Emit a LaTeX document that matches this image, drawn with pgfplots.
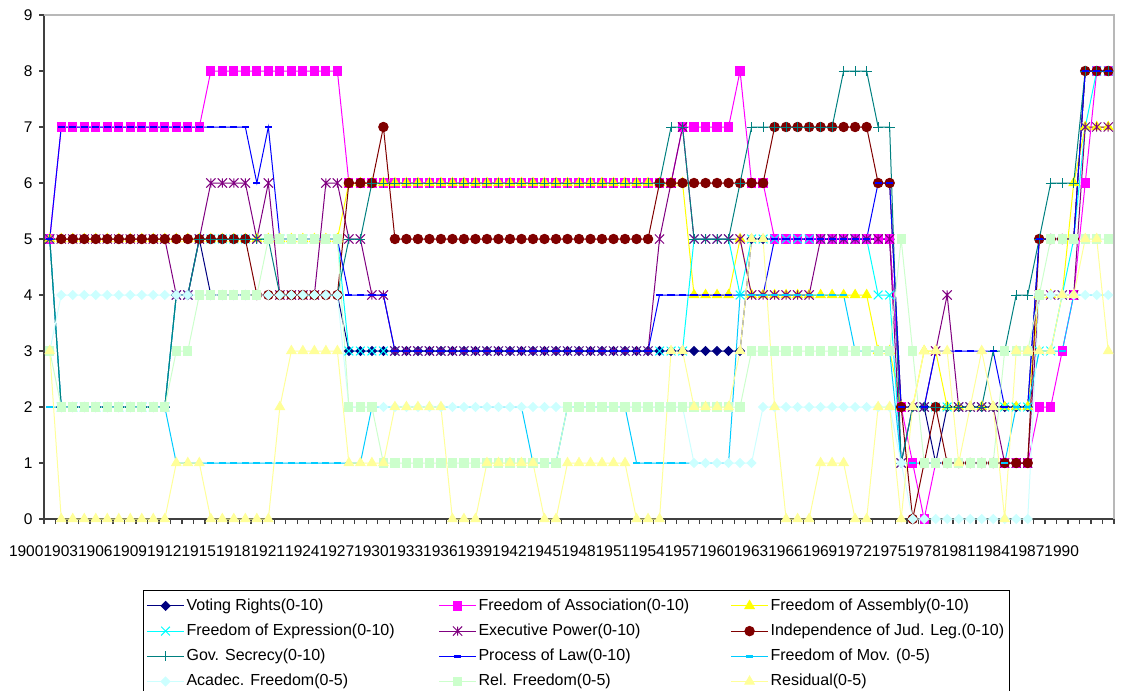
\documentclass[border=0pt]{standalone}
\usepackage{pgfplots}
\pgfplotsset{compat=1.18}
\usepackage{pgfplotstable}
\usepackage{fontspec}
\setmainfont{Liberation Sans}

\definecolor{cVR}{HTML}{000080}
\definecolor{cFA}{HTML}{FF00FF}
\definecolor{cFAs}{HTML}{FFFF00}
\definecolor{cFE}{HTML}{00FFFF}
\definecolor{cEP}{HTML}{800080}
\definecolor{cIJ}{HTML}{800000}
\definecolor{cGS}{HTML}{008080}
\definecolor{cPL}{HTML}{0000FF}
\definecolor{cFM}{HTML}{00CCFF}
\definecolor{cAF}{HTML}{CCFFFF}
\definecolor{cRF}{HTML}{CCFFCC}
\definecolor{cRE}{HTML}{FFFF99}

\pgfdeclareplotmark{xdia}{%
  \pgfpathmoveto{\pgfqpoint{0pt}{\pgfplotmarksize}}%
  \pgfpathlineto{\pgfqpoint{\pgfplotmarksize}{0pt}}%
  \pgfpathlineto{\pgfqpoint{0pt}{-\pgfplotmarksize}}%
  \pgfpathlineto{\pgfqpoint{-\pgfplotmarksize}{0pt}}%
  \pgfpathclose\pgfusepathqfillstroke}
\pgfdeclareplotmark{xstar}{%
  \pgfpathmoveto{\pgfqpoint{0pt}{\pgfplotmarksize}}%
  \pgfpathlineto{\pgfqpoint{0pt}{-\pgfplotmarksize}}%
  \pgfpathmoveto{\pgfqpoint{-\pgfplotmarksize}{-\pgfplotmarksize}}%
  \pgfpathlineto{\pgfqpoint{\pgfplotmarksize}{\pgfplotmarksize}}%
  \pgfpathmoveto{\pgfqpoint{-\pgfplotmarksize}{\pgfplotmarksize}}%
  \pgfpathlineto{\pgfqpoint{\pgfplotmarksize}{-\pgfplotmarksize}}%
  \pgfusepathqstroke}

\pgfplotstableread{
yr VR FA FAs FE EP IJ GS PL FM AF RF RE
1900 5 5 5 5 5 nan 5 5 2 3 3 3
1901 2 7 5 2 5 5 2 7 2 4 2 0
1902 2 7 5 2 5 5 2 7 2 4 2 0
1903 2 7 5 2 5 5 2 7 2 4 2 0
1904 2 7 5 2 5 5 2 7 2 4 2 0
1905 2 7 5 2 5 5 2 7 2 4 2 0
1906 2 7 5 2 5 5 2 7 2 4 2 0
1907 2 7 5 2 5 5 2 7 2 4 2 0
1908 2 7 5 2 5 5 2 7 2 4 2 0
1909 2 7 5 2 5 5 2 7 2 4 2 0
1910 2 7 5 2 5 5 2 7 2 4 2 0
1911 4 7 5 4 4 5 4 7 1 4 3 1
1912 4 7 5 4 4 5 4 7 1 4 3 1
1913 5 7 5 5 5 5 5 7 1 4 4 1
1914 4 8 5 5 6 5 5 7 1 4 4 0
1915 4 8 5 5 6 5 5 7 1 4 4 0
1916 4 8 5 5 6 5 5 7 1 4 4 0
1917 4 8 5 5 6 5 5 7 1 4 4 0
1918 4 8 5 5 5 4 5 6 1 4 4 0
1919 4 8 5 5 6 4 5 7 1 4 5 0
1920 4 8 5 5 4 4 4 5 1 4 5 2
1921 4 8 5 5 4 4 4 5 1 4 5 3
1922 4 8 5 5 4 4 4 5 1 4 5 3
1923 4 8 5 5 4 4 4 5 1 4 5 3
1924 4 8 5 5 6 4 4 5 1 4 5 3
1925 4 8 5 5 6 4 4 5 1 4 5 3
1926 3 6 6 3 5 6 5 4 1 2 2 1
1927 3 6 6 3 5 6 5 4 1 2 2 1
1928 3 6 6 3 4 6 6 4 2 2 2 1
1929 3 6 6 3 4 7 6 4 2 2 1 1
1930 3 6 6 3 3 5 6 3 2 2 1 2
1931 3 6 6 3 3 5 6 3 2 2 1 2
1932 3 6 6 3 3 5 6 3 2 2 1 2
1933 3 6 6 3 3 5 6 3 2 2 1 2
1934 3 6 6 3 3 5 6 3 2 2 1 2
1935 3 6 6 3 3 5 6 3 2 2 1 0
1936 3 6 6 3 3 5 6 3 2 2 1 0
1937 3 6 6 3 3 5 6 3 2 2 1 0
1938 3 6 6 3 3 5 6 3 2 2 1 1
1939 3 6 6 3 3 5 6 3 2 2 1 1
1940 3 6 6 3 3 5 6 3 2 2 1 1
1941 3 6 6 3 3 5 6 3 2 2 1 1
1942 3 6 6 3 3 5 6 3 1 2 1 1
1943 3 6 6 3 3 5 6 3 1 2 1 0
1944 3 6 6 3 3 5 6 3 1 2 1 0
1945 3 6 6 3 3 5 6 3 2 2 2 1
1946 3 6 6 3 3 5 6 3 2 2 2 1
1947 3 6 6 3 3 5 6 3 2 2 2 1
1948 3 6 6 3 3 5 6 3 2 2 2 1
1949 3 6 6 3 3 5 6 3 2 2 2 1
1950 3 6 6 3 3 5 6 3 2 2 2 1
1951 3 6 6 3 3 5 6 3 1 2 2 0
1952 3 6 6 3 3 5 6 3 1 2 2 0
1953 3 6 6 3 5 6 6 4 1 2 2 0
1954 3 6 6 3 6 6 7 4 1 2 2 3
1955 3 7 6 3 7 6 7 4 1 2 2 3
1956 3 7 4 5 5 6 5 4 1 1 2 2
1957 3 7 4 5 5 6 5 4 1 1 2 2
1958 3 7 4 5 5 6 5 4 1 1 2 2
1959 3 7 4 5 5 6 5 4 1 1 2 2
1960 3 8 5 4 5 6 6 4 4 1 2 3
1961 5 6 4 5 4 6 7 4 4 1 3 5
1962 5 6 4 5 4 6 7 4 4 2 3 5
1963 5 5 4 5 4 7 7 5 4 2 3 2
1964 5 5 4 5 4 7 7 5 4 2 3 0
1965 5 5 4 5 4 7 7 5 4 2 3 0
1966 5 5 4 5 4 7 7 5 4 2 3 0
1967 5 5 4 5 5 7 7 5 4 2 3 1
1968 5 5 4 5 5 7 7 5 4 2 3 1
1969 5 5 4 5 5 7 8 5 4 2 3 1
1970 5 5 4 5 5 7 8 5 3 2 3 0
1971 5 5 4 5 5 7 8 5 3 2 3 0
1972 5 5 3 4 5 6 7 6 3 2 3 2
1973 5 5 3 4 5 6 7 6 3 2 3 2
1974 2 2 2 1 1 2 1 2 1 1 5 0
1975 2 1 2 2 2 0 2 2 1 0 3 2
1976 2 0 3 2 2 1 2 2 1 0 1 3
1977 1 1 3 2 3 2 2 3 1 0 1 3
1978 2 1 2 2 4 1 2 3 1 0 1 3
1979 2 1 2 2 2 1 2 3 1 0 1 1
1980 2 1 2 2 2 1 2 3 1 0 1 2
1981 2 1 2 2 2 1 2 3 1 0 1 3
1982 2 1 2 2 2 1 3 3 1 0 1 2
1983 2 1 2 2 1 1 3 2 1 0 3 0
1984 2 1 2 2 1 1 4 2 2 0 3 3
1985 2 1 2 2 1 1 4 2 2 0 3 3
1986 5 2 4 3 4 5 5 5 3 4 4 3
1987 5 2 4 3 4 5 6 5 3 4 5 3
1988 5 3 4 4 4 5 6 5 3 4 5 4
1989 5 4 6 5 4 5 6 5 4 4 5 4
1990 8 6 7 7 7 8 8 8 4 4 5 5
1991 8 8 7 8 7 8 8 8 4 4 5 5
1992 8 8 7 8 7 8 8 8 4 4 5 3
}\data

\begin{document}
\begin{tikzpicture}[x=1pt,y=1pt]
\path[use as bounding box] (0,0) rectangle (561.5,-345);
\begin{axis}[
  at={(22pt,-259.5pt)}, anchor=south west,
  width=535pt, height=252pt, scale only axis,
  xmin=1899.5, xmax=1992.5, ymin=0, ymax=9,
  clip=false,
  axis x line*=bottom, axis y line*=left,
  axis line style={line width=0.8pt, black!75},
  tick align=outside,
  major tick length=2.4pt, minor tick length=2.5pt,
  tick style={black!75, line width=0.6pt},
  ytick={0,...,9},
  yticklabels={},
  xtick={1900,1903,...,1990},
  minor xtick={1899.5,1900.5,...,1992.5},
  major x tick style={draw=none},
  /pgf/number format/1000 sep={},
  /pgf/number format/assume math mode=true,
  ticklabel style={font=\fontsize{7.75}{9}\selectfont},
  xticklabel style={xshift=-11.75pt, anchor=center, yshift=-13.5pt},
  every axis plot/.append style={line width=0.5pt},
  legend columns=3,
  legend cell align=left,
  legend image code/.code={\draw[mark repeat=2,mark phase=2] plot coordinates {(0pt,0pt) (9.25pt,0pt) (18.5pt,0pt)};},
  legend style={at={(axis description cs:0.0925,-0.1409)}, anchor=north west,
    draw=black, line width=0.6pt, fill=white,
    font=\fontsize{8}{9.5}\selectfont,
    inner xsep=1.5pt, inner ysep=3pt, row sep=3.3pt, column sep=0pt,
    nodes={inner xsep=1pt, inner ysep=1pt}},
]
\draw[line width=0.8pt, black!28] (rel axis cs:0,1) -- (rel axis cs:1,1) -- (rel axis cs:1,0);
\pgfplotsinvokeforeach{0,...,9}{
  \node[anchor=east, inner sep=0pt, xshift=-5.5pt, font=\fontsize{7.75}{9}\selectfont] at (axis cs:1899.5,#1) {#1};
}

\addplot[color=cVR, mark=xdia, mark size=2.2pt, mark options={solid, fill=cVR}] table[x=yr, y=VR] {\data};
\addlegendentry{\makebox[125pt][l]{Voting Rights(0-10)}}
\addplot[color=cFA, mark=square*, mark size=2.05pt, mark options={solid, fill=cFA}] table[x=yr, y=FA] {\data};
\addlegendentry{\makebox[125pt][l]{Freedom of Association(0-10)}}
\addplot[color=cFAs, mark=triangle*, mark size=2.7pt, mark options={solid, fill=cFAs}] table[x=yr, y=FAs] {\data};
\addlegendentry{\makebox[117pt][l]{Freedom of Assembly(0-10)}}
\addplot[color=cFE, mark=x, mark size=3.1pt, mark options={solid}] table[x=yr, y=FE] {\data};
\addlegendentry{\makebox[125pt][l]{Freedom of Expression(0-10)}}
\addplot[color=cEP, mark=xstar, mark size=2.3pt, mark options={solid}] table[x=yr, y=EP] {\data};
\addlegendentry{\makebox[125pt][l]{Executive Power(0-10)}}
\addplot[color=cIJ, mark=*, mark size=2.35pt, mark options={solid, fill=cIJ}] table[x=yr, y=IJ] {\data};
\addlegendentry{\makebox[117pt][l]{Independence of Jud. Leg.(0-10)}}
\addplot[color=cGS, mark=+, mark size=2.5pt, mark options={solid}] table[x=yr, y=GS] {\data};
\addlegendentry{\makebox[125pt][l]{Gov. Secrecy(0-10)}}
\addplot[color=cPL, mark=-, mark size=1.8pt, mark options={solid, line width=1.2pt}] table[x=yr, y=PL] {\data};
\addlegendentry{\makebox[125pt][l]{Process of Law(0-10)}}
\addplot[color=cFM, mark=-, mark size=1.8pt, mark options={solid, line width=1.2pt}] table[x=yr, y=FM] {\data};
\addlegendentry{\makebox[117pt][l]{Freedom of Mov. (0-5)}}
\addplot[color=cAF, mark=xdia, mark size=2.2pt, mark options={solid, fill=cAF}] table[x=yr, y=AF] {\data};
\addlegendentry{\makebox[125pt][l]{Acadec. Freedom(0-5)}}
\addplot[color=cRF, mark=square*, mark size=2.05pt, mark options={solid, fill=cRF}] table[x=yr, y=RF] {\data};
\addlegendentry{\makebox[125pt][l]{Rel. Freedom(0-5)}}
\addplot[color=cRE, mark=triangle*, mark size=2.7pt, mark options={solid, fill=cRE}] table[x=yr, y=RE] {\data};
\addlegendentry{\makebox[117pt][l]{Residual(0-5)}}
\end{axis}
\end{tikzpicture}
\end{document}
